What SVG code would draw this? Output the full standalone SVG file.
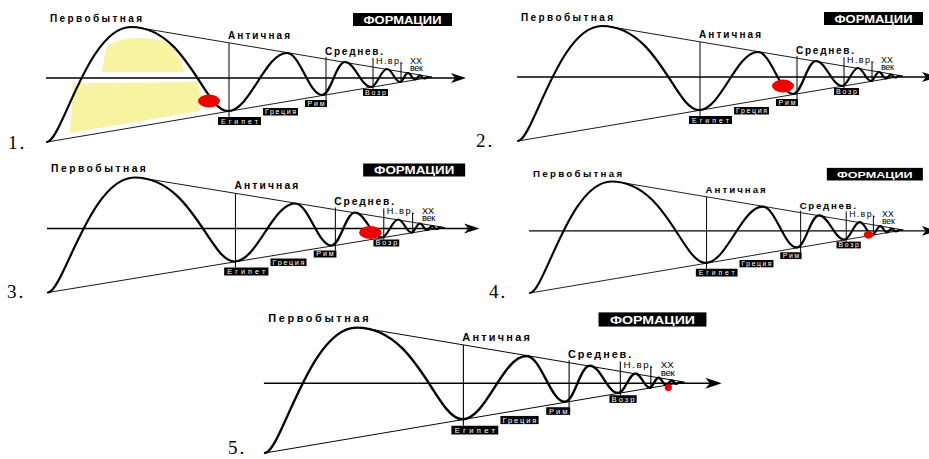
<svg xmlns="http://www.w3.org/2000/svg" xmlns:xlink="http://www.w3.org/1999/xlink" width="929" height="459" viewBox="0 0 929 459">
<style>
.curve{fill:none;stroke:#000;stroke-width:2.2;stroke-linecap:round}
.axis{stroke:#000;stroke-width:1.3}
.env{stroke:#000;stroke-width:0.9}
.vl{stroke:#000;stroke-width:1}
.hd{font-family:"Liberation Sans",Arial,sans-serif;font-weight:bold;font-size:10px;fill:#000}
.thin{font-family:"Liberation Sans",Arial,sans-serif;font-size:9px;fill:#000}
.lbox{fill:#000}
.ltxt{font-family:"Liberation Sans",Arial,sans-serif;font-size:7px;fill:#fff;text-anchor:middle}
.ftxt{font-family:"Liberation Sans",Arial,sans-serif;font-weight:bold;font-size:10px;fill:#fff;text-anchor:middle}
.num{font-family:"Liberation Serif","Times New Roman",serif;font-size:19px;fill:#000}
.dot{fill:#ee0000}
.yel{fill:#f8f3a0}
</style>
<defs>
<g id="base">
  <line class="env" x1="47" y1="142" x2="432" y2="77"/>
  <line class="env" x1="135" y1="27" x2="432" y2="77"/>
  <line class="axis" x1="46" y1="78" x2="456" y2="78"/>
  <path d="M466,78 L451,73 L455,78 L451,83 Z" fill="#000"/>
  <line class="vl" x1="229" y1="43" x2="229" y2="117"/>
  <line class="vl" x1="326" y1="57" x2="326" y2="100"/>
  <line class="vl" x1="373" y1="58" x2="373" y2="89"/>
  <line class="vl" x1="401" y1="62" x2="401" y2="83"/>
  <path class="curve" d="M47,142 C62,141 88,27 131,27 C187,27 204,111 228,111 C250,111 265,53 287,53 C300,53 309,95 322,95 C331,95 336,62 345,62 C355,62 361,87 371,87 C377,87 381,69 387,69 C392,69 395,82 400,82 C403,82 405,73 408,73 C411,73 412,79.5 415,79.5 C417,79.5 418,75.5 420,75.5 C422,75.5 422,78.5 424,78.5 C426,78.5 426,77 428,77"/>
  <text class="hd" x="50" y="22" textLength="92" lengthAdjust="spacing">Первобытная</text>
  <text class="hd" x="228" y="39" textLength="62" lengthAdjust="spacing">Античная</text>
  <text class="hd" x="325" y="55" textLength="58" lengthAdjust="spacing">Среднев.</text>
  <text class="thin" x="376" y="64" textLength="27" lengthAdjust="spacing">Н.вр.</text>
  <text class="thin" x="410" y="64" font-size="8" textLength="12" lengthAdjust="spacing">XX</text>
  <text class="thin" x="410" y="71" font-size="7" textLength="13" lengthAdjust="spacing">век</text>
  <rect class="lbox" x="218" y="117" width="43" height="8"/>
  <text class="ltxt" x="239.5" y="123.5" textLength="37" lengthAdjust="spacing">Египет</text>
  <rect class="lbox" x="263" y="108" width="35" height="7.5"/>
  <text class="ltxt" x="280.5" y="114.3" textLength="31" lengthAdjust="spacing">Греция</text>
  <rect class="lbox" x="305" y="100" width="22" height="7"/>
  <text class="ltxt" x="316" y="106" textLength="17" lengthAdjust="spacing">Рим</text>
  <rect class="lbox" x="363" y="89" width="25" height="7"/>
  <text class="ltxt" x="375.5" y="95" textLength="21" lengthAdjust="spacing">Возр</text>
  <rect class="lbox" x="353" y="13" width="99" height="13"/>
  <text class="ftxt" x="402.5" y="23.5" textLength="78" lengthAdjust="spacingAndGlyphs">ФОРМАЦИИ</text>
</g>
</defs>

<g id="panel1">
  <path class="yel" d="M106,47 Q118,38 140,38 Q162,38 172,46 L180,58 L184,72 L102,72 Z"/>
  <path class="yel" d="M73,83 L197,82 L201,95 L200,111 L70,133 Z"/>
  <use xlink:href="#base" href="#base"/>
  <ellipse class="dot" cx="209" cy="101" rx="11" ry="6.5"/>
</g>

<g id="panel2" transform="translate(471,-1)">
  <use xlink:href="#base" href="#base"/>
  <ellipse class="dot" cx="312" cy="87" rx="11" ry="6.5"/>
</g>

<g id="panel3" transform="translate(48,292.5) scale(1.03,1) translate(-47,-142)">
  <use xlink:href="#base" href="#base"/>
  <ellipse class="dot" cx="360" cy="82" rx="11" ry="6.5"/>
</g>

<g id="panel4" transform="translate(530,293) scale(0.97) translate(-47,-142)">
  <use xlink:href="#base" href="#base"/>
  <ellipse class="dot" cx="396" cy="82" rx="5" ry="4"/>
</g>

<g id="panel5" transform="translate(265,453) scale(1.09) translate(-47,-142)">
  <use xlink:href="#base" href="#base"/>
  <circle class="dot" cx="417" cy="82" r="3.3"/>
</g>

<g id="numbers">
  <text class="num" x="8" y="149" letter-spacing="2">1.</text>
  <text class="num" x="476" y="147" letter-spacing="2">2.</text>
  <text class="num" x="7" y="298" letter-spacing="2">3.</text>
  <text class="num" x="489" y="298" letter-spacing="2">4.</text>
  <text class="num" x="228" y="454" font-size="18" letter-spacing="2">5.</text>
</g>
</svg>
